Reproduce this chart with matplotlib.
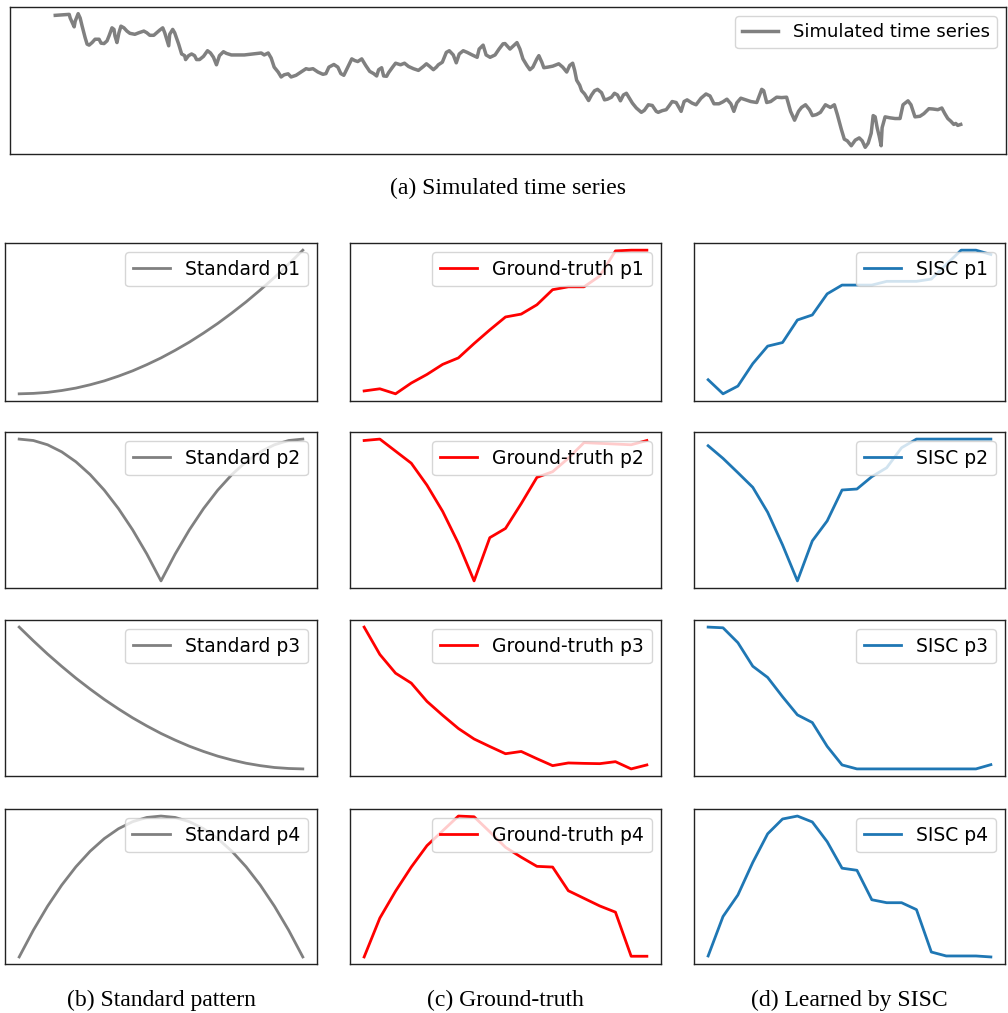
import matplotlib
matplotlib.use("Agg")
import matplotlib.pyplot as plt

# simulated series (day index, value)
ts_day = [0, 7, 14, 15, 19, 20, 23, 25, 27, 30,
          32, 34, 37, 40, 44, 46, 49, 52, 54, 57,
          59, 60, 62, 64, 66, 69, 72, 75, 80, 84,
          89, 92, 95, 99, 102, 105, 108, 110, 114, 115,
          118, 120, 124, 127, 130, 131, 134, 137, 140, 142,
          145, 149, 153, 156, 159, 162, 165, 169, 172, 177,
          190, 204, 207, 210, 214, 217, 220, 224, 227, 230,
          234, 237, 242, 247, 252, 255, 259, 264, 269, 272,
          275, 280, 284, 287, 290, 294, 298, 301, 304, 308,
          312, 316, 320, 323, 325, 328, 330, 333, 335, 339,
          342, 347, 351, 355, 360, 365, 370, 373, 376, 380,
          383, 385, 389, 393, 396, 400, 403, 406, 410, 414,
          419, 424, 426, 430, 433, 437, 442, 446, 450, 452,
          457, 464, 467, 470, 474, 477, 480, 484, 486, 489,
          491, 495, 500, 506, 510, 514, 517, 520, 522, 524,
          527, 529, 532, 534, 536, 539, 542, 545, 549, 552,
          555, 559, 562, 565, 568, 571, 574, 577, 580, 584,
          589, 592, 596, 600, 604, 606, 610, 614, 617, 620,
          624, 629, 632, 635, 640, 644, 649, 654, 658, 662,
          667, 671, 675, 679, 682, 685, 689, 694, 699, 705,
          710, 712, 715, 719, 725, 730, 735, 739, 743, 747,
          750, 754, 758, 761, 765, 769, 774, 779, 783, 786,
          790, 793, 796, 800, 804, 808, 811, 814, 817, 820,
          822, 824, 826, 828, 830, 831, 834, 839, 844, 849,
          852, 857, 860, 864, 869, 873, 878, 882, 887, 891,
          894, 897, 900, 903, 905, 907, 910]
ts_value = [146, 146.5, 147, 143.3, 134.3, 140, 147.7, 143.3, 135, 123.3,
            116.7, 115.7, 118.3, 121.7, 121.7, 117.7, 117.3, 120, 125, 133.3,
            131.7, 125, 118.3, 128.3, 135, 133.3, 130, 127.7, 126.7, 128.3,
            130, 128.3, 125.7, 125.7, 128.3, 131, 133.3, 128.3, 115, 126.7,
            131.7, 128.3, 116.7, 106.7, 105, 101, 105, 106.7, 105, 101,
            101, 104.3, 110, 107.7, 103.3, 95.7, 105, 109, 107.3, 105.7,
            105.7, 107.3, 107.7, 105.7, 107.7, 102.5, 93.3, 88.3, 83.3, 85.5,
            86.5, 83.3, 85, 88.3, 91.7, 91, 91.7, 88.3, 86, 86.7,
            93.3, 96, 93.3, 86.7, 85, 93.3, 101.7, 100, 99, 101.7,
            95, 89, 86.7, 84.3, 90.7, 92.7, 84.3, 84, 87.7, 93.3,
            97.3, 95.7, 97.3, 94, 91.7, 90, 94, 96.7, 94.3, 90.7,
            93.3, 95.7, 98.3, 108.3, 110, 105.7, 97.7, 106.7, 110, 108.3,
            105.7, 103.3, 111.7, 115.7, 105.7, 103.3, 105.7, 111.7, 117, 117.3,
            111.7, 118.3, 111.7, 101.7, 95, 90.7, 93.3, 101.7, 105, 98.3,
            92.7, 93.3, 94.3, 96.7, 93.3, 88.3, 95, 97.3, 90, 80,
            75, 69.3, 66, 62.7, 59.3, 65, 69.3, 70.7, 67.3, 60,
            60.7, 62.7, 66.7, 65, 59, 65, 66.7, 61.7, 56.7, 51.7,
            47.3, 49.3, 55, 54.3, 48.3, 47.3, 49, 50, 54, 58.3,
            57.3, 48.3, 58.3, 60, 56.7, 55, 61.7, 66, 64, 56,
            56, 58, 60.7, 56, 48.3, 57, 61.7, 60, 58.3, 57.3,
            70.7, 69.3, 57.3, 58.3, 62.7, 62.3, 62.7, 48.3, 39.3, 48.3,
            52.3, 55, 50, 44, 45, 47.3, 55, 52.3, 55, 45,
            30, 20, 18.3, 13.3, 19, 21.3, 18.3, 11.7, 16, 26,
            44, 42.7, 31.7, 23.3, 13.3, 31.7, 42.7, 41.7, 41, 41,
            55, 59, 55, 42.7, 43.3, 46, 51, 50.7, 50, 51.7,
            46, 41, 38.3, 35, 36, 34, 35]

# standard patterns (21 samples each)
standard_p1 = [0.0, 0.003, 0.01, 0.023, 0.04, 0.063, 0.09, 0.123, 0.16, 0.203, 0.25,
               0.303, 0.36, 0.423, 0.49, 0.563, 0.64, 0.723, 0.81, 0.903, 1.0]
standard_p2 = [1.0, 0.99, 0.96, 0.91, 0.84, 0.75, 0.64, 0.51, 0.36, 0.19, 0.0,
               0.19, 0.36, 0.51, 0.64, 0.75, 0.84, 0.91, 0.96, 0.99, 1.0]
standard_p3 = [1.0, 0.903, 0.81, 0.723, 0.64, 0.563, 0.49, 0.423, 0.36, 0.303, 0.25,
               0.203, 0.16, 0.123, 0.09, 0.063, 0.04, 0.023, 0.01, 0.003, 0.0]
standard_p4 = [0.0, 0.19, 0.36, 0.51, 0.64, 0.75, 0.84, 0.91, 0.96, 0.99, 1.0,
               0.99, 0.96, 0.91, 0.84, 0.75, 0.64, 0.51, 0.36, 0.19, 0.0]

# ground-truth patterns (19 samples each)
truth_p1 = [0.02, 0.035, 0.0, 0.075, 0.135, 0.205, 0.25, 0.35, 0.445, 0.535,
            0.555, 0.62, 0.725, 0.745, 0.745, 0.82, 0.995, 1.0, 1.0]
truth_p2 = [0.99, 1.0, 0.915, 0.83, 0.675, 0.49, 0.265, 0.0, 0.305, 0.37,
            0.545, 0.73, 0.77, 0.865, 0.975, 0.97, 0.965, 0.96, 0.99]
truth_p3 = [1.0, 0.807, 0.675, 0.605, 0.476, 0.378, 0.285, 0.211, 0.158, 0.107,
            0.123, 0.072, 0.023, 0.042, 0.039, 0.037, 0.051, 0.0, 0.028]
truth_p4 = [0.0, 0.276, 0.467, 0.638, 0.79, 0.895, 1.0, 0.995, 0.888, 0.778,
            0.708, 0.643, 0.638, 0.47, 0.416, 0.362, 0.318, 0.005, 0.005]

# patterns learned by SISC (20 samples each)
sisc_p1 = [0.098, 0.0, 0.054, 0.21, 0.332, 0.357, 0.514, 0.549, 0.696, 0.757,
           0.757, 0.757, 0.783, 0.783, 0.783, 0.799, 0.9, 1.0, 1.0, 0.97]
sisc_p2 = [0.953, 0.864, 0.763, 0.66, 0.484, 0.254, 0.0, 0.282, 0.423, 0.641,
           0.648, 0.735, 0.798, 0.939, 1.0, 1.0, 1.0, 1.0, 1.0, 1.0]
sisc_p3 = [1.0, 0.995, 0.89, 0.724, 0.645, 0.509, 0.381, 0.327, 0.159, 0.028,
           0.0, 0.0, 0.0, 0.0, 0.0, 0.0, 0.0, 0.0, 0.0, 0.03]
sisc_p4 = [0.007, 0.287, 0.44, 0.671, 0.874, 0.979, 1.0, 0.958, 0.818, 0.63,
           0.615, 0.406, 0.385, 0.385, 0.336, 0.035, 0.007, 0.007, 0.007, 0.0]

columns = [
    ("Standard", "gray", [standard_p1, standard_p2, standard_p3, standard_p4]),
    ("Ground-truth", "red", [truth_p1, truth_p2, truth_p3, truth_p4]),
    ("SISC", "#1f77b4", [sisc_p1, sisc_p2, sisc_p3, sisc_p4]),
]
captions = ["(b) Standard pattern", "(c) Ground-truth", "(d) Learned by SISC"]

W, H = 1008, 1013
fig = plt.figure(figsize=(W / 100, H / 100), dpi=100)


def px_axes(x0, y0, x1, y1):
    # axes from pixel box (top-left origin)
    return fig.add_axes([x0 / W, 1 - y1 / H, (x1 - x0) / W, (y1 - y0) / H])


def clean(ax):
    ax.set_xticks([])
    ax.set_yticks([])
    for s in ax.spines.values():
        s.set_linewidth(1.0)
        s.set_color("#222222")


# top panel: simulated series
ax = px_axes(10, 7, 1006, 154)
ax.plot(ts_day, ts_value, color="gray", lw=2.5, label="Simulated time series")
ax.legend(loc="upper right", fontsize=13)
clean(ax)
fig.text(508 / W, 1 - 188 / H, "(a) Simulated time series", ha="center", va="center",
         family="Liberation Serif", fontsize=17)

col_x = [(5, 317), (350, 661), (694, 1005)]
row_y = [(243, 401), (432, 588), (620, 776), (809, 964)]

for c, (name, color, series) in enumerate(columns):
    for r, vals in enumerate(series):
        ax = px_axes(col_x[c][0], row_y[r][0], col_x[c][1], row_y[r][1])
        ax.plot(range(len(vals)), vals, color=color, lw=2, label="%s p%d" % (name, r + 1))
        ax.legend(loc="upper right", fontsize=13.5)
        clean(ax)
    fig.text((col_x[c][0] + col_x[c][1]) / 2 / W, 1 - 1000 / H, captions[c],
             ha="center", va="center", family="Liberation Serif", fontsize=17)

fig.savefig("out.png", dpi=100)
